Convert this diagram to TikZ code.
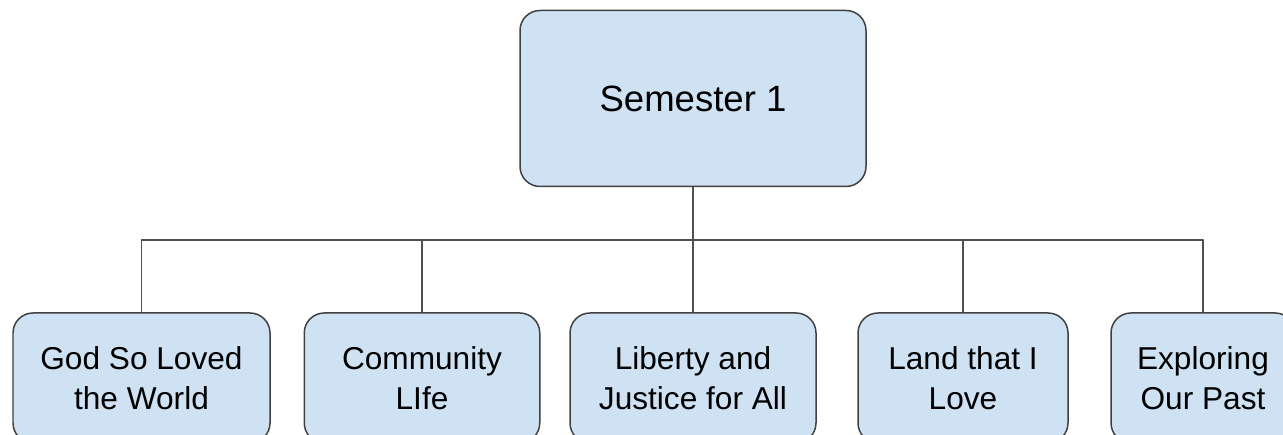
\documentclass[tikz,border=0pt]{standalone}
\usepackage{fontspec}
\setmainfont{Liberation Sans}
\definecolor{boxfill}{HTML}{CFE2F3}
\definecolor{boxline}{HTML}{404040}
\definecolor{linkgray}{HTML}{505050}
\begin{document}
\begin{tikzpicture}[line join=round, line cap=round,
	box/.style={draw=boxline, fill=boxfill, rounded corners=0.4cm, line width=0.85pt, align=center, inner sep=0pt, font=\fontsize{18}{22.8}\selectfont},
	topic/.style={box, minimum height=2.6cm},
	link/.style={draw=linkgray, line width=0.75pt}]
	\useasboundingbox (0,0) rectangle (25.66,-8.7);
	\coordinate (bar) at (13.86,-4.8);
	\node[box, minimum width=6.92cm, minimum height=3.52cm, font=\fontsize{20.8}{25}\selectfont] (sem) at (13.86,-1.97) {Semester 1};
	\node[topic, minimum width=5.14cm] (t1) at (2.83,-7.56) {God So Loved\\the World};
	\node[topic, minimum width=4.71cm] (t2) at (8.44,-7.56) {Community\\LIfe};
	\node[topic, minimum width=4.92cm] (t3) at (13.86,-7.56) {Liberty and\\Justice for All};
	\node[topic, minimum width=4.20cm] (t4) at (19.26,-7.56) {Land that I\\Love};
	\node[topic, minimum width=3.68cm] (t5) at (24.06,-7.56) {Exploring\\Our Past};
	\draw[link] (sem.south) -- (bar);
	\draw[link] (t1.north |- bar) -- (t5.north |- bar);
	\draw[link] (t1.north |- bar) -- (t1.north) (t2.north |- bar) -- (t2.north) (t3.north |- bar) -- (t3.north) (t4.north |- bar) -- (t4.north) (t5.north |- bar) -- (t5.north);
\end{tikzpicture}
\end{document}
